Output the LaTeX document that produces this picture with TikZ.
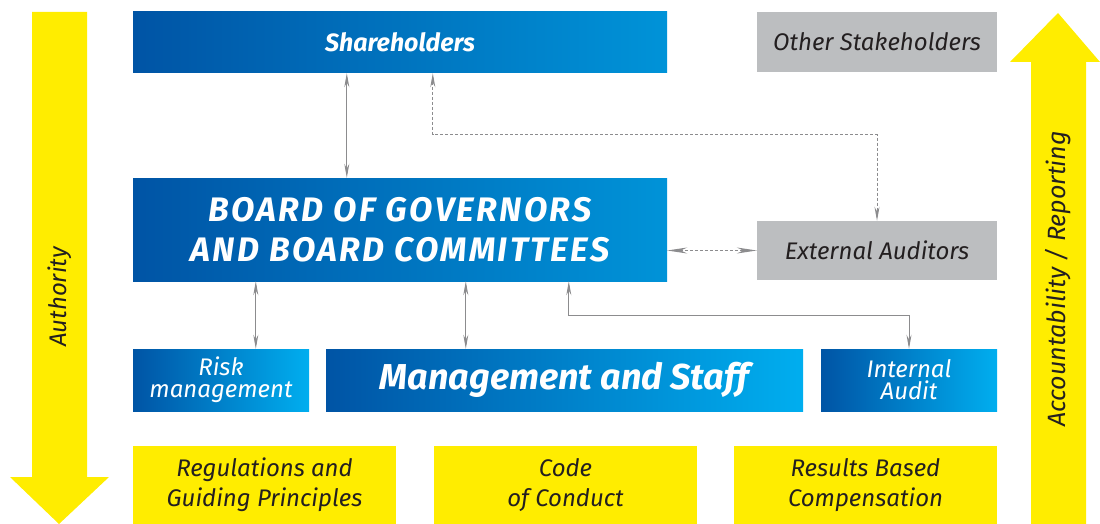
\documentclass[tikz,border=0pt]{standalone}
\usepackage{fontspec}
\setmainfont{Fira Sans}
\usepackage{tikz}
\usetikzlibrary{arrows.meta,positioning,calc}
\definecolor{boxdark}{RGB}{0,84,165}
\definecolor{boxmid}{RGB}{0,147,216}
\definecolor{boxcyan}{RGB}{0,174,239}
\definecolor{signyellow}{RGB}{255,237,0}
\definecolor{softgray}{RGB}{188,190,192}
\definecolor{linkgray}{RGB}{140,140,142}
\definecolor{inkdark}{RGB}{35,31,32}

\begin{document}
\begin{tikzpicture}[
    x=1pt, y=-1pt,
    bluebox/.style={rectangle, inner sep=0pt, left color=boxdark, right color=#1,
                    text=white, align=center},
    graybox/.style={rectangle, inner sep=0pt, fill=softgray, text=inkdark, align=center,
                    minimum width=240, font=\fontsize{24}{28}\selectfont\itshape},
    rulebox/.style={rectangle, inner sep=0pt, fill=signyellow, text=inkdark, align=center,
                    minimum width=263, minimum height=78, font=\fontsize{24}{30}\selectfont\itshape},
    link/.style={draw=linkgray, line width=1pt, {Stealth[length=14pt,width=5pt]}-{Stealth[length=14pt,width=5pt]}},
    dlink/.style={link, dashed, dash pattern=on 3pt off 2pt}
]
\useasboundingbox (0,0) rectangle (1100,524);

% Big arrows at the sides
\fill[signyellow] (32,12) -- (87,12) -- (87,477) -- (109,477) -- (59,524) -- (10,477) -- (32,477) -- cycle;
\fill[signyellow] (1031,524) -- (1086,524) -- (1086,62) -- (1100,62) -- (1058,13) -- (1010,62) -- (1031,62) -- cycle;
\node[rotate=90, text=inkdark, font=\fontsize{24}{28}\selectfont\itshape] (authority) at (60,297) {Authority};
\node[rotate=90, text=inkdark, font=\fontsize{25}{28}\selectfont\itshape] (reporting) at (1058,279) {Accountability / Reporting};

% Top row
\node[bluebox=boxmid, minimum width=534, minimum height=61, font=\fontsize{25}{28}\selectfont\bfseries\itshape] (share) at (400,42.5) {Shareholders};
\node[graybox, minimum height=60] (other) at (877,42) {Other Stakeholders};

% Board and auditors
\node[bluebox=boxmid, minimum width=534, minimum height=103,
      font=\fontsize{34}{40}\selectfont\bfseries\itshape\addfontfeatures{LetterSpace=7}] (board) at (400,229.5) {BOARD OF GOVERNORS\\AND BOARD COMMITTEES};
\node[graybox, minimum height=59] (ext) at (877,250.5) {External Auditors};

% Management row
\node[bluebox=boxcyan, minimum width=176, minimum height=62, font=\fontsize{24}{22}\selectfont\itshape] (risk) at (221,380) {Risk\\management};
\node[bluebox=boxcyan, minimum width=477, minimum height=62, font=\fontsize{36}{40}\selectfont\bfseries\itshape] (mgmt) at (564.5,380) {Management and Staff};
\node[bluebox=boxcyan, minimum width=176, minimum height=62, font=\fontsize{24}{22}\selectfont\itshape] (audit) at (909,380) {Internal\\Audit};

% Bottom row
\node[rulebox] (rules) at (264.5,485) {Regulations and\\Guiding Principles};
\node[rulebox] (code) at (565.5,485) {Code\\of Conduct};
\node[rulebox] (pay) at (865.5,485) {Results Based\\Compensation};

% Connectors
\draw[link] ([xshift=214]share.south west) -- ([xshift=214]board.north west);
\draw[dlink] ([xshift=300]share.south west) -- ++(0,61) -| (ext.north);
\draw[dlink, {Stealth[length=20pt,width=6pt]}-{Stealth[length=20pt,width=6pt]}] (ext.west -| board.east) -- (ext.west);
\draw[link] ([xshift=123]board.south west) -- ([xshift=123]risk.north west);
\draw[link] ([xshift=333]board.south west) -- ([xshift=140]mgmt.north west);
\draw[link] (audit.north) -- ++(0,-33) -| ([xshift=436]board.south west);

\end{tikzpicture}
\end{document}
